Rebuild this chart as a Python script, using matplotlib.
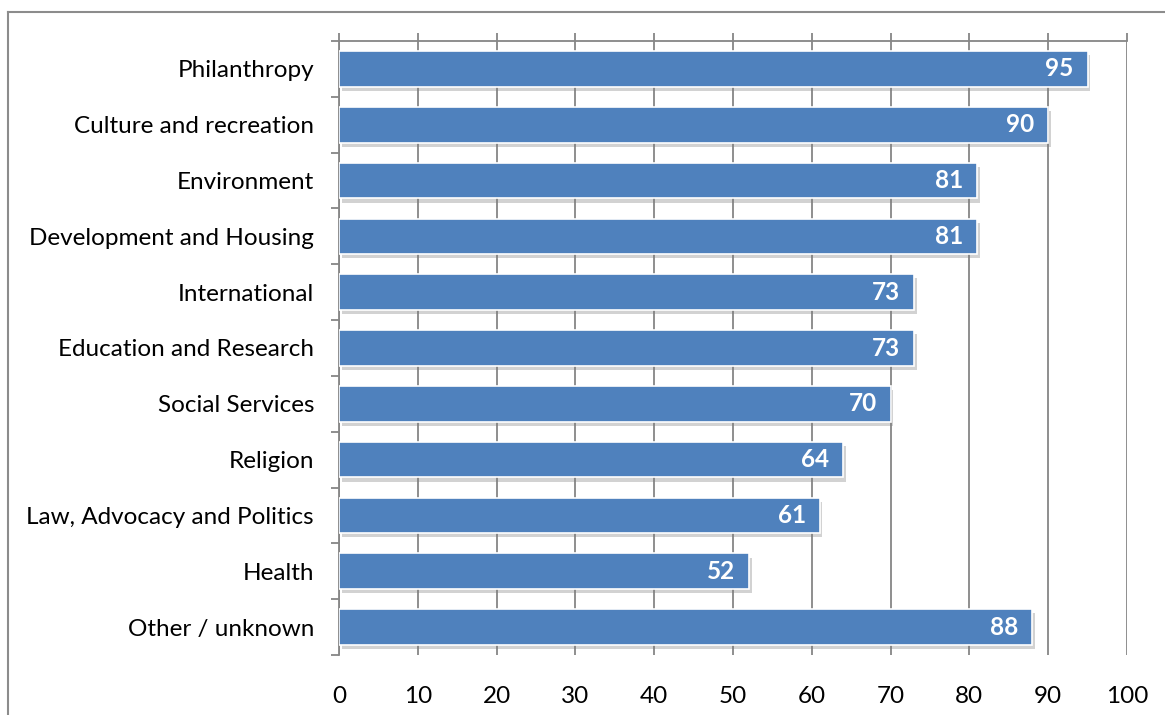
import matplotlib.pyplot as plt
import matplotlib.patheffects as pe
from matplotlib.lines import Line2D
import numpy as np

categories = ["Philanthropy", "Culture and recreation", "Environment",
              "Development and Housing", "International", "Education and Research",
              "Social Services", "Religion", "Law, Advocacy and Politics",
              "Health", "Other / unknown"]
values = [95, 90, 81, 81, 73, 73, 70, 64, 61, 52, 88]
x_ticks = [0, 10, 20, 30, 40, 50, 60, 70, 80, 90, 100]

plt.rcParams['font.family'] = ['Lato', 'DejaVu Sans']
axis_gray = "#868686"
bar_blue = "#4F81BD"

fig = plt.figure(figsize=(11.65, 7.15), dpi=100)
ax = fig.add_axes([339 / 1165, 1 - 655 / 715, (1127 - 339) / 1165, (655 - 41) / 715])

y = np.arange(len(categories))
bars = ax.barh(y, values, height=0.64, color=bar_blue, edgecolor="white",
               linewidth=1.2, zorder=3)
for b in bars:
    b.set_path_effects([pe.SimplePatchShadow(offset=(2, -3), shadow_rgbFace="#7f7f7f", alpha=0.35),
                        pe.Normal()])

for yi, v in zip(y, values):
    ax.annotate(str(v), xy=(v, yi), xytext=(-10, 0), textcoords="offset points",
                ha="right", va="center", color="white", fontsize=17.5,
                fontweight="bold", zorder=4)

ax.set_xlim(0, 100)
ax.set_ylim(len(categories) - 0.5, -0.5)
ax.set_xticks(x_ticks)
ax.set_xticklabels([str(t) for t in x_ticks], fontsize=17.5)
ax.grid(axis="x", color=axis_gray, linewidth=1.3, zorder=0)
ax.set_axisbelow(True)

ax.tick_params(axis="x", top=True, bottom=False, labeltop=False, labelbottom=True,
               direction="out", length=6, width=1.3, color=axis_gray, pad=16)
ax.set_yticks(y)
ax.set_yticklabels(categories, fontsize=17.5)
ax.set_yticks(np.arange(len(categories) + 1) - 0.5, minor=True)
ax.tick_params(axis="y", which="major", length=0, pad=18)
ax.tick_params(axis="y", which="minor", length=6, width=1.3, color=axis_gray, direction="out")

for side in ["right", "bottom"]:
    ax.spines[side].set_visible(False)
for side in ["top", "left"]:
    ax.spines[side].set_color(axis_gray)
    ax.spines[side].set_linewidth(1.3)

# outer chart border (cropped on right and bottom)
fig.add_artist(Line2D([8 / 1165, 1], [1 - 12 / 715, 1 - 12 / 715], color="#8c8c8c", linewidth=1.5))
fig.add_artist(Line2D([8 / 1165, 8 / 1165], [0, 1 - 12 / 715], color="#8c8c8c", linewidth=1.5))

fig.savefig("out.png", dpi=100)
